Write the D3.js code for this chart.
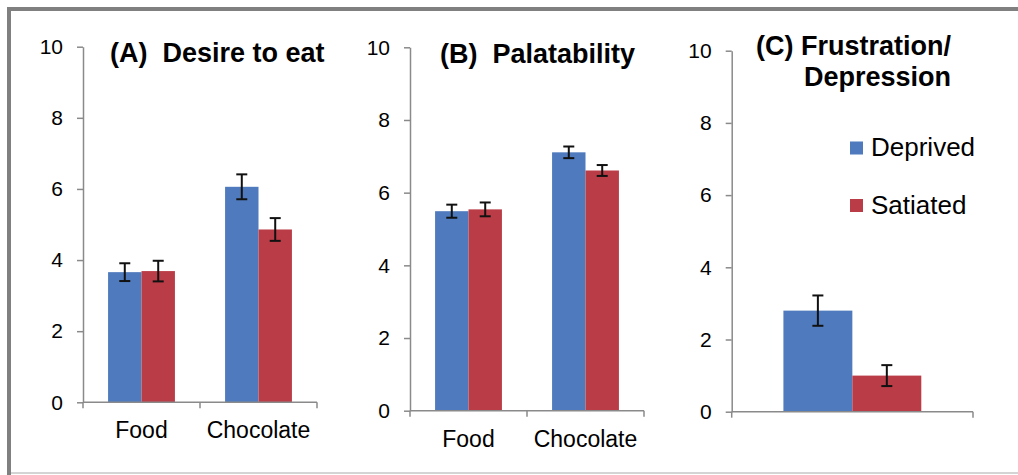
<!DOCTYPE html>
<html>
<head>
<meta charset="utf-8">
<script src="https://cdn.jsdelivr.net/npm/d3@7"></script>
<style>
  body { margin: 0; background: #fff; }
  svg { display: block; font-family: "Liberation Sans", Arial, sans-serif; }
</style>
</head>
<body>
<div id="chart"></div>
<script>
// Data
const categories = ["Food", "Chocolate"];
const series = ["Deprived", "Satiated"];
const yTicks = [0, 2, 4, 6, 8, 10];

const desireDeprived = [3.66, 6.06];
const desireSatiated = [3.69, 4.86];
const desireErrDeprived = [0.25, 0.35];
const desireErrSatiated = [0.29, 0.32];

const palatDeprived = [5.49, 7.11];
const palatSatiated = [5.54, 6.61];
const palatErrDeprived = [0.18, 0.16];
const palatErrSatiated = [0.19, 0.15];

const frustCategories = [""];
const frustDeprived = [2.80];
const frustSatiated = [1.00];
const frustErrDeprived = [0.42];
const frustErrSatiated = [0.29];

const colors = { Deprived: "#4f7bbe", Satiated: "#ba3c46" };
const axisColor = "#8a8a8a";

const width = 1018, height = 475;

const svg = d3.select("#chart")
    .append("svg")
    .attr("width", width)
    .attr("height", height);

// Frame around the figure
svg.append("rect").attr("x", 7).attr("y", 7).attr("width", width - 7).attr("height", 4).attr("fill", "#808080");
svg.append("rect").attr("x", 7).attr("y", 7).attr("width", 4).attr("height", height - 7).attr("fill", "#808080");
svg.append("rect").attr("x", 11).attr("y", 472).attr("width", width - 11).attr("height", 2).attr("fill", "#d4d4d4");

function drawPanel(p) {
    const g = svg.append("g");

    const y = d3.scaleLinear().domain([0, 10]).range([p.y0, p.y1]);
    const x = d3.scaleBand().domain(p.categories).range([p.x0, p.x1]);
    const xs = d3.scaleBand().domain(series).range([0, x.bandwidth()]).paddingOuter(0.75);

    // y axis
    const yAxis = g.append("g")
        .attr("transform", `translate(${p.x0},0)`)
        .call(d3.axisLeft(y).tickValues(yTicks).tickSize(6).tickSizeOuter(0).tickPadding(14));
    yAxis.select(".domain").attr("stroke", axisColor).attr("stroke-width", 1.5);
    yAxis.selectAll(".tick line").attr("stroke", axisColor).attr("stroke-width", 1.5);
    yAxis.selectAll(".tick text")
        .attr("fill", "#000")
        .style("font-size", "21px")
        .style("font-family", "'Liberation Sans', Arial, sans-serif");

    // bars
    const rows = p.categories.map((c, i) => ({
        cat: c,
        vals: series.map(s => ({ s, v: p.values[s][i], e: p.errors[s][i] }))
    }));

    const grp = g.selectAll(".grp")
        .data(rows)
        .enter()
        .append("g")
        .attr("transform", d => `translate(${x(d.cat)},0)`);

    grp.selectAll("rect")
        .data(d => d.vals)
        .enter()
        .append("rect")
        .attr("x", d => xs(d.s))
        .attr("y", d => y(d.v))
        .attr("width", xs.bandwidth())
        .attr("height", d => y(0) - y(d.v))
        .attr("fill", d => colors[d.s]);

    // error bars
    const err = grp.selectAll(".err")
        .data(d => d.vals)
        .enter()
        .append("g")
        .attr("stroke", "#111")
        .attr("stroke-width", 2);
    err.append("line")
        .attr("x1", d => xs(d.s) + xs.bandwidth() / 2)
        .attr("x2", d => xs(d.s) + xs.bandwidth() / 2)
        .attr("y1", d => y(d.v + d.e))
        .attr("y2", d => y(d.v - d.e));
    [1, -1].forEach(sign => {
        err.append("line")
            .attr("x1", d => xs(d.s) + xs.bandwidth() / 2 - 5.5)
            .attr("x2", d => xs(d.s) + xs.bandwidth() / 2 + 5.5)
            .attr("y1", d => y(d.v + sign * d.e))
            .attr("y2", d => y(d.v + sign * d.e));
    });

    // x axis with ticks at band boundaries
    g.append("line")
        .attr("x1", p.x0).attr("x2", p.x1)
        .attr("y1", y(0)).attr("y2", y(0))
        .attr("stroke", axisColor).attr("stroke-width", 1.5);
    const bounds = p.categories.map(c => x(c)).concat([p.x1]);
    g.selectAll(".xt")
        .data(bounds)
        .enter()
        .append("line")
        .attr("x1", d => d).attr("x2", d => d)
        .attr("y1", y(0)).attr("y2", y(0) + 6)
        .attr("stroke", axisColor).attr("stroke-width", 1.5);
    g.selectAll(".xl")
        .data(p.categories)
        .enter()
        .append("text")
        .attr("x", d => x(d) + x.bandwidth() / 2)
        .attr("y", y(0) + 36)
        .attr("text-anchor", "middle")
        .style("font-size", "23px")
        .text(d => d);

    // title
    const title = g.append("text")
        .attr("font-weight", "bold")
        .style("font-size", "27px")
        .style("white-space", "pre")
        .attr("text-anchor", p.titleAnchor);
    p.title.forEach((line, i) => {
        title.append("tspan")
            .attr("x", p.titleX)
            .attr("y", p.titleY + i * 31)
            .text(line);
    });
}

drawPanel({
    categories: categories,
    values: { Deprived: desireDeprived, Satiated: desireSatiated },
    errors: { Deprived: desireErrDeprived, Satiated: desireErrSatiated },
    x0: 83, x1: 317, y0: 402.3, y1: 46.7,
    title: ["(A)  Desire to eat"], titleX: 110, titleY: 62, titleAnchor: "start"
});

drawPanel({
    categories: categories,
    values: { Deprived: palatDeprived, Satiated: palatSatiated },
    errors: { Deprived: palatErrDeprived, Satiated: palatErrSatiated },
    x0: 410, x1: 644, y0: 410.7, y1: 47.3,
    title: ["(B)  Palatability"], titleX: 440, titleY: 63, titleAnchor: "start"
});

drawPanel({
    categories: frustCategories,
    values: { Deprived: frustDeprived, Satiated: frustSatiated },
    errors: { Deprived: frustErrDeprived, Satiated: frustErrSatiated },
    x0: 731.7, x1: 973, y0: 411.7, y1: 50.7,
    title: ["(C) Frustration/", "Depression"], titleX: 951, titleY: 55, titleAnchor: "end"
});

// legend
const legend = svg.append("g")
    .selectAll("g")
    .data(series)
    .enter()
    .append("g")
    .attr("transform", (d, i) => `translate(850,${141.5 + i * 57.5})`);
legend.append("rect")
    .attr("width", 13)
    .attr("height", 13)
    .attr("fill", d => colors[d]);
legend.append("text")
    .attr("x", 21)
    .attr("y", 14.5)
    .style("font-size", "26px")
    .text(d => d);
</script>
</body>
</html>
